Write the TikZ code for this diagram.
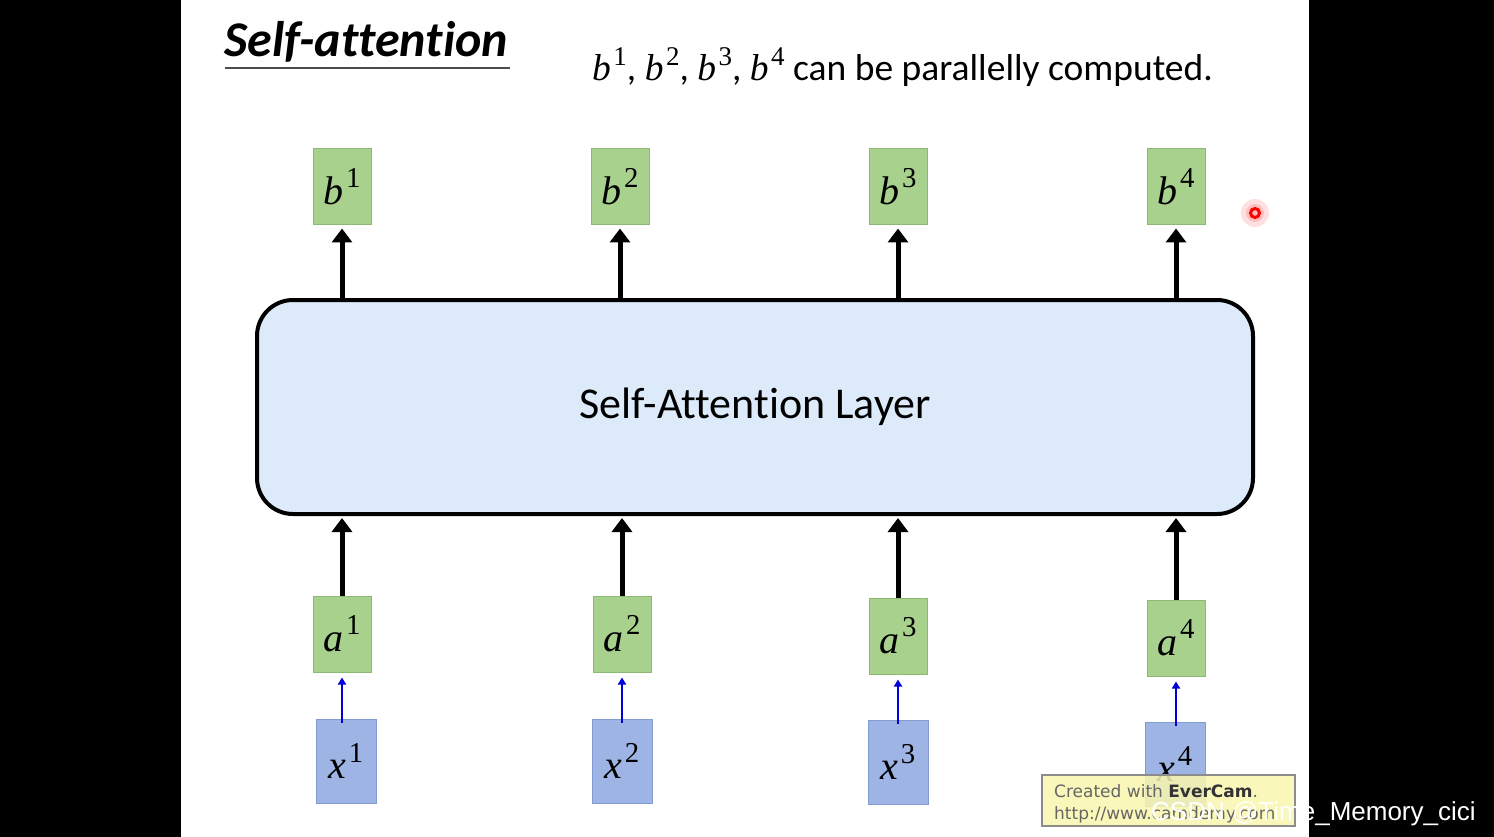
\documentclass[tikz,border=0pt]{standalone}
\usepackage{fontspec}
\setmainfont{Carlito}[Ligatures=NoCommon]
\setsansfont{Carlito}[Ligatures=NoCommon]
\newfontfamily\wmfont{DejaVu Sans}
\newfontfamily\csdnfont{Liberation Sans}
\newfontfamily\varfont{Liberation Serif}
\newcommand\varsup[2]{{\varfont\itshape #1}\kern2.5pt\raisebox{0.42em}{\scalebox{0.72}{\varfont #2}}}
\usetikzlibrary{arrows.meta}
\definecolor{boxgreen}{RGB}{169,209,142}
\definecolor{boxgreenline}{RGB}{140,185,115}
\definecolor{boxblue}{RGB}{158,180,228}
\definecolor{boxblueline}{RGB}{130,155,210}
\definecolor{layerfill}{RGB}{221,234,249}
\definecolor{evercam}{RGB}{250,246,175}
\tikzset{
  gbox/.style={draw=boxgreenline, line width=1pt, fill=boxgreen, minimum width=58pt, minimum height=76pt, inner sep=0pt, font=\fontsize{40}{42}\selectfont},
  xbox/.style={draw=boxblueline, line width=1pt, fill=boxblue, minimum width=60pt, minimum height=84pt, inner sep=0pt, font=\fontsize{40}{42}\selectfont},
  thickarrow/.style={line width=5pt, -{Triangle[length=14pt,width=20pt]}},
  bluearrow/.style={draw=blue!85!black, line width=2.5pt, -{Triangle[length=7pt,width=8pt]}},
}
\begin{document}
\begin{tikzpicture}[x=1pt,y=1pt]
\useasboundingbox (0,0) rectangle (1494,-837);
\fill[black] (0,0) rectangle (1494,-837);
\fill[white] (181,0) rectangle (1309,-837);
% title
\node[anchor=base west, inner sep=0pt, font=\fontsize{50}{52}\selectfont\bfseries\itshape] (title) at (224,-57) {Self-attention};
\draw[line width=2pt, black!70] (225,-68) -- (510,-68);
\node[anchor=base west, inner sep=0pt, font=\fontsize{37.5}{39}\selectfont] (sub) at (592,-81) {\varsup{b}{1}, \varsup{b}{2}, \varsup{b}{3}, \varsup{b}{4} can be parallelly computed.};
% layer
\node[draw=black, line width=4pt, fill=layerfill, rounded corners=36pt, minimum width=996pt, minimum height=214pt, font=\fontsize{44}{46}\selectfont] (layer) at (755,-407) {\raisebox{-3pt}{Self-Attention Layer}};
% b boxes
\node[gbox] (b1) at (342,-187) {\varsup{b}{1}};
\node[gbox] (b2) at (620,-187) {\varsup{b}{2}};
\node[gbox] (b3) at (898,-187) {\varsup{b}{3}};
\node[gbox] (b4) at (1176,-187) {\varsup{b}{4}};
% a boxes
\node[gbox] (a1) at (342,-634) {\varsup{a}{1}};
\node[gbox] (a2) at (622,-634) {\varsup{a}{2}};
\node[gbox] (a3) at (898,-636) {\varsup{a}{3}};
\node[gbox] (a4) at (1176,-638) {\varsup{a}{4}};
% x boxes
\node[xbox] (x1) at (346,-761) {\varsup{x}{1}};
\node[xbox] (x2) at (622,-761) {\varsup{x}{2}};
\node[xbox] (x3) at (898,-762) {\varsup{x}{3}};
\node[xbox] (x4) at (1175,-764) {\varsup{x}{4}};
% arrows
\foreach \i in {1,2,3,4} {
  \draw[thickarrow] (layer.north -| b\i) -- ([yshift=-3pt]b\i.south);
  \draw[thickarrow] (a\i.north) -- ([yshift=-2pt]layer.south -| a\i);
  \draw[bluearrow] ([yshift=-4pt]x\i.north -| a\i) -- ([yshift=-5pt]a\i.south);
}
% cursor dot
\fill[red!12] (1255,-213) circle (14pt);
\fill[red!25] (1255,-213) circle (9pt);
\draw[red, line width=3pt] (1255,-213) circle (4.5pt);
% watermark box
\node[draw=black!45, line width=1.5pt, fill=evercam, fill opacity=0.85, text opacity=1, minimum width=253pt, minimum height=51pt, inner sep=0pt] (ever) at (1168.5,-800.5) {};
\node[anchor=base west, inner sep=0pt, text=black!60, font=\wmfont\fontsize{17}{19}\selectfont] (ever1) at (1054,-797) {Created with \textbf{\color{black!80}EverCam}.};
\node[anchor=base west, inner sep=0pt, text=black!60, font=\wmfont\fontsize{17}{19}\selectfont] (ever2) at (1054,-819) {http://www.camdemy.com};
\node[anchor=base west, inner sep=0pt, text=white, font=\csdnfont\fontsize{26}{28}\selectfont] (csdn) at (1151,-820) {CSDN @Time\_Memory\_cici};
\end{tikzpicture}
\end{document}
